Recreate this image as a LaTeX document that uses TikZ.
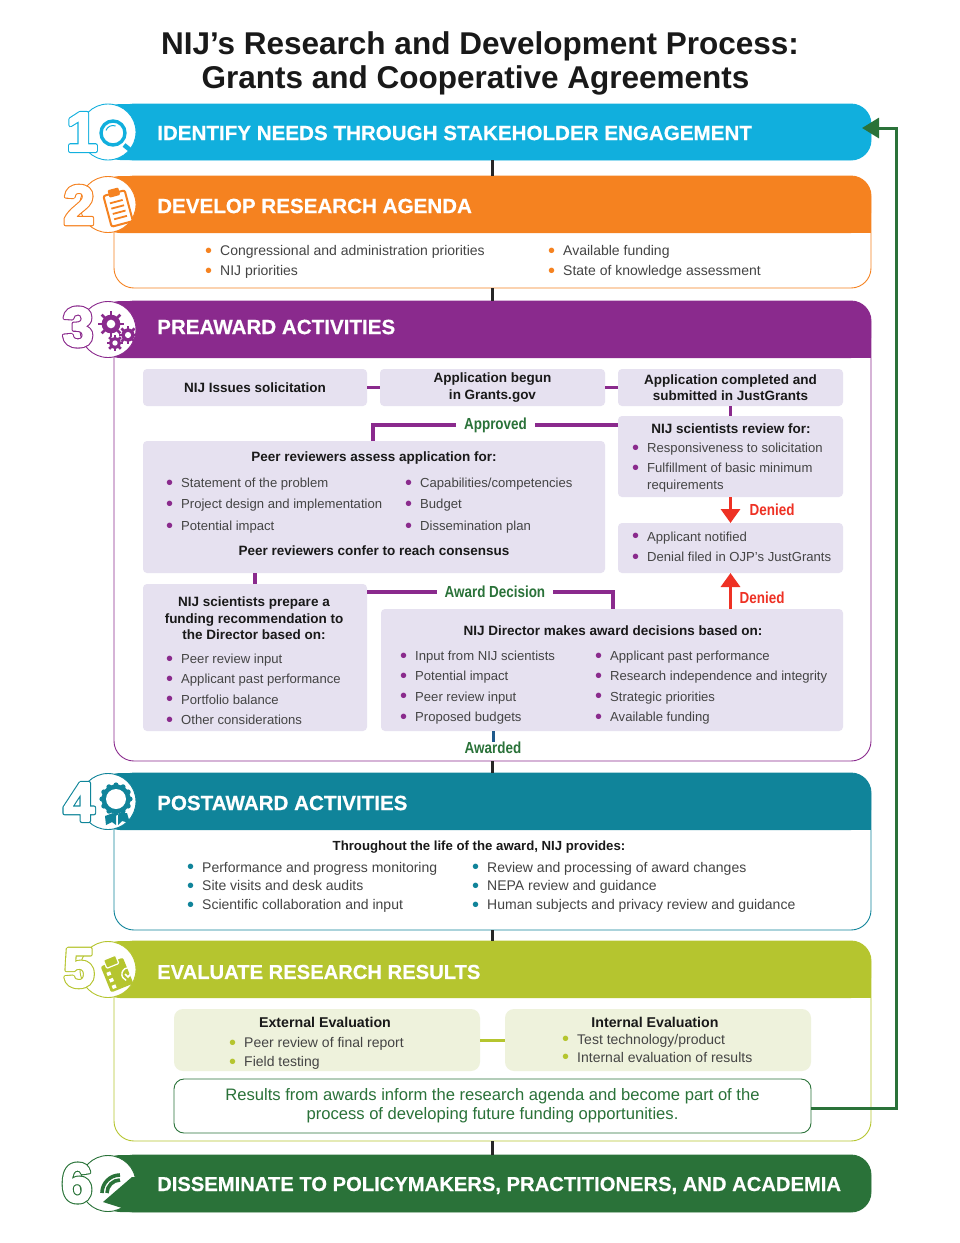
\documentclass[tikz,border=0pt]{standalone}
\usepackage{fontspec}
\setmainfont{Liberation Sans}
\newfontfamily\labelfont[FakeStretch=0.84]{Liberation Sans Bold}
\newfontfamily\headfont[FakeBold=0.5]{Liberation Sans Bold}
\usetikzlibrary{positioning,arrows.meta}

\definecolor{seccyan}{HTML}{11AFDD}
\definecolor{secorange}{HTML}{F58220}
\definecolor{secpurple}{HTML}{8A2A8D}
\definecolor{secteal}{HTML}{10849A}
\definecolor{secolive}{HTML}{B5C52F}
\definecolor{secgreen}{HTML}{2A7239}
\definecolor{boxlav}{HTML}{E6E1F0}
\definecolor{boxolive}{HTML}{EEF2DC}
\definecolor{bodygray}{HTML}{444444}
\definecolor{deniedred}{HTML}{EE3124}
\definecolor{awardblue}{HTML}{1F5A8C}

% outlined numeral, white inside
\newcommand{\outnum}[2]{\color{white}\rlap{\special{pdf:code 2 Tr 1 j 4.2 w #1 RG}#2}\special{pdf:code 2 Tr 1 j 2 w 1 1 1 RG}#2\special{pdf:code 0 Tr 0 j}}
\newcommand{\itm}[2]{\makebox[15pt][l]{\color{#1}\fontsize{20}{20}\selectfont\raisebox{-1.8pt}{\textbullet}}#2}

\tikzset{
    shell/.style = {draw=#1, fill=white, line width=0.9pt, rounded corners=20pt, minimum width=757pt, inner sep=0, outer sep=0},
    head/.style = {anchor=west, inner sep=0, text=white, font=\fontsize{20.6}{24}\headfont},
    numeral/.style = {inner sep=0, font=\fontsize{55}{60}\bfseries\selectfont},
    lavbox/.style = {fill=boxlav, rounded corners=4pt, inner sep=0, outer sep=0, align=center, font=\fontsize{13.5}{16.5}\bfseries\selectfont, text=black!90},
    olivebox/.style = {fill=boxolive, rounded corners=9pt, inner sep=0, outer sep=0},
    boxtitle/.style = {inner sep=0, align=center, font=\fontsize{13.5}{16.5}\bfseries\selectfont, text=black!90},
    itemlist/.style = {anchor=west, inner sep=0, align=left, text=bodygray, font=\fontsize{14}{20.4}\selectfont},
    preawardlist/.style = {itemlist, font=\fontsize{13.1}{20.4}\selectfont},
    link/.style = {secpurple, line width=3.3pt},
    joinline/.style = {black!85, line width=3pt},
    redarrow/.style = {deniedred, line width=3.3pt, -{Triangle[width=19pt,length=14pt]}},
    flowlabel/.style = {inner sep=0, font=\fontsize{16}{18}\labelfont},
    gapped/.style = {fill=white, inner xsep=8pt, inner ysep=0}
}

\begin{document}
\begin{tikzpicture}[x=1pt, y=-1pt]

\useasboundingbox (0,0) rectangle (960,1243);

\node[inner sep=0, align=center, text=black!90, font=\fontsize{31.5}{34}\bfseries\selectfont] (title) at (480,63) {NIJ’s Research and Development Process:\\Grants and Cooperative Agreements\hspace*{9pt}};

% section frames and their coloured bars
\foreach \secname/\ya/\yb/\yc/\seccol/\numx/\numy/\numcol/\numtext in {
    sec1/104/160/160/seccyan/82/132/0.07 0.69 0.87/1,
    sec2/176/233/288/secorange/79/205/0.96 0.51 0.13/2,
    sec3/301/358/761/secpurple/78/327/0.54 0.16 0.55/3,
    sec4/773/830/930/secteal/79/802/0.06 0.52 0.60/4,
    sec5/941/998/1141/secolive/79/968/0.71 0.77 0.18/5,
    sec6/1155/1212/1212/secgreen/77/1183/0.16 0.45 0.22/6} {
    \node[shell=\seccol, minimum height={(\yc-\ya)*1pt}] (\secname) at (492.5,{(\ya+\yc)/2}) {};
    \fill[\seccol, rounded corners=20pt] (100,\ya) rectangle (871,\yb);
    \ifnum\yc>\yb
        \fill[\seccol] (840,{(\ya+\yb)/2}) rectangle (871,\yb);
    \fi
    \filldraw[fill=white, draw=\seccol, line width=0.9pt] (108,{(\ya+\yb)/2}) circle (28);
    \node[numeral] (num\secname) at (\numx,\numy) {\outnum{\numcol}{\numtext}};
}

\draw[joinline] (sec1.south) -- (sec2.north);
\draw[joinline] (sec2.south) -- (sec3.north);
\draw[joinline] (sec3.south) -- (sec4.north);
\draw[joinline] (sec4.south) -- (sec5.north);
\draw[joinline] (sec5.south) -- (sec6.north);

% icons
\begin{scope}[shift={(113,133)}, seccyan]
    \draw[line width=3.4pt] (0,0) circle (12);
    \draw[line width=1pt] (200:7.5) arc (200:290:7.5);
    \draw[line width=4.5pt] (11,12) -- (21,20);
\end{scope}
\begin{scope}[shift={(118,208)}, rotate=15, scale=1.1, secorange]
    \filldraw[fill=white, line width=2pt, rounded corners=2pt] (-10,-14) rectangle (10,15);
    \fill[rounded corners=1pt] (-5,-18) rectangle (5,-11);
    \foreach \ly in {-6,-1,4,9} \draw[line width=1.8pt] (-6,\ly) -- (6,\ly);
\end{scope}
\foreach \gx/\gy/\gr in {111/324/12, 128/335/8.5, 115/343/7.5} {
    \foreach \ga in {0,45,...,315} \draw[secpurple, line width=2.8pt] (\gx,\gy) ++(\ga:0.6*\gr) -- ++(\ga:0.5*\gr);
    \fill[secpurple] (\gx,\gy) circle ({0.78*\gr});
    \fill[white] (\gx,\gy) circle ({0.36*\gr});
}
\begin{scope}[shift={(116,799)}, secteal]
    \fill (-3,14) -- (-11,17) -- (-10,26) -- (-4,23) -- (0,26) -- (0,16) -- cycle;
    \fill (3,14) -- (11,14) -- (14,24) -- (6,22) -- (2,26) -- (2,16) -- cycle;
    \foreach \ga in {0,30,...,330} \fill (\ga:14) circle (2.6);
    \fill (0,0) circle (14.5);
    \fill[white] (0,0) circle (10);
\end{scope}
\begin{scope}[shift={(117,975)}, rotate=22, secolive]
    \fill[rounded corners=2pt] (-12,-14) rectangle (12,14);
    \draw[white, line width=1.2pt, fill=secolive, rounded corners=1pt] (-7,-19) rectangle (6,-10);
    \foreach \ly in {-6,1,8} \fill[white] (-9,\ly) rectangle ++(4,3.5);
\end{scope}
\begin{scope}[shift={(128,974)}, white]
    \draw[line width=1.4pt] (6,-3) arc (-30:-250:6.5);
    \draw[line width=1.7pt] (-3,0) -- (0,3) -- (6,-4);
\end{scope}
\begin{scope}[secgreen]
    \fill (132,1177) -- (103,1202) -- (122,1208) -- (140,1208) -- (140,1177) -- cycle;
    \draw[line width=3.6pt] (102,1193) arc (180:270:18);
    \draw[line width=3.6pt] (107,1193) arc (180:270:13);
\end{scope}

% bar titles
\node[head] (head1) at (157,133) {IDENTIFY NEEDS THROUGH STAKEHOLDER ENGAGEMENT};
\node[head] (head2) at (157,206) {DEVELOP RESEARCH AGENDA};
\node[head] (head3) at (157,327) {PREAWARD ACTIVITIES};
\node[head] (head4) at (157,803) {POSTAWARD ACTIVITIES};
\node[head, font=\fontsize{20.2}{24}\headfont] (head5) at (157,972) {EVALUATE RESEARCH RESULTS};
\node[head, font=\fontsize{20.2}{24}\headfont] (head6) at (157,1185.5) {DISSEMINATE TO POLICYMAKERS, PRACTITIONERS, AND ACADEMIA};

% section 2
\node[itemlist] (list2a) at (205,262) {\itm{secorange}{Congressional and administration priorities}\\\itm{secorange}{NIJ priorities}};
\node[itemlist] (list2b) at (548,262) {\itm{secorange}{Available funding}\\\itm{secorange}{State of knowledge assessment}};

% section 3
\node[lavbox, anchor=north west, minimum width=224pt, minimum height=37pt] (solic) at (143,369) {NIJ Issues solicitation};
\node[lavbox, right=13pt of solic, minimum width=225pt, minimum height=37pt] (begun) {Application begun\\in Grants.gov};
\node[lavbox, right=13pt of begun, minimum width=225pt, minimum height=37pt] (submit) {Application completed and\\submitted in JustGrants};
\node[lavbox, below=10pt of submit, minimum width=225pt, minimum height=81pt] (review) {};
\node[lavbox, below=26pt of review, minimum width=225pt, minimum height=50pt] (notified) {};
\node[lavbox, anchor=north west, minimum width=462pt, minimum height=132pt] (peer) at (143,441) {};
\node[lavbox, anchor=north west, minimum width=224pt, minimum height=147pt] (prep) at (143,584) {};
\node[lavbox, anchor=north west, minimum width=462pt, minimum height=122pt] (director) at (381,609) {};

\node[boxtitle] (reviewtitle) at (731,429) {NIJ scientists review for:};
\node[preawardlist] (reviewlist) at (632,467.5) {\itm{secpurple}{Responsiveness to solicitation}\\\itm{secpurple}{Fulfillment of basic minimum}\\[-3.5pt]\hspace{15pt}requirements};
\node[preawardlist] (notifiedlist) at (632,547.5) {\itm{secpurple}{Applicant notified}\\\itm{secpurple}{Denial filed in OJP’s JustGrants}};

\node[boxtitle] (peertitle) at (374,458.5) {Peer reviewers assess application for:};
\node[preawardlist, font=\fontsize{13.1}{21.5}\selectfont] (peerlista) at (166,505.5) {\itm{secpurple}{Statement of the problem}\\\itm{secpurple}{Project design and implementation}\\\itm{secpurple}{Potential impact}};
\node[preawardlist, font=\fontsize{13.1}{21.5}\selectfont] (peerlistb) at (405,505.5) {\itm{secpurple}{Capabilities/competencies}\\\itm{secpurple}{Budget}\\\itm{secpurple}{Dissemination plan}};
\node[boxtitle] (peerend) at (374,551) {Peer reviewers confer to reach consensus};

\node[boxtitle] (preptitle) at (254,618.5) {NIJ scientists prepare a\\funding recommendation to\\the Director based on:};
\node[preawardlist] (preplist) at (166,690) {\itm{secpurple}{Peer review input}\\\itm{secpurple}{Applicant past performance}\\\itm{secpurple}{Portfolio balance}\\\itm{secpurple}{Other considerations}};

\node[boxtitle] (directortitle) at (613,631) {NIJ Director makes award decisions based on:};
\node[preawardlist] (directorlista) at (400,687.5) {\itm{secpurple}{Input from NIJ scientists}\\\itm{secpurple}{Potential impact}\\\itm{secpurple}{Peer review input}\\\itm{secpurple}{Proposed budgets}};
\node[preawardlist] (directorlistb) at (595,687.5) {\itm{secpurple}{Applicant past performance}\\\itm{secpurple}{Research independence and integrity}\\\itm{secpurple}{Strategic priorities}\\\itm{secpurple}{Available funding}};

\coordinate (approvedturn) at (373,425);
\coordinate (decisionturn) at (613,592);
\node[flowlabel, text=secgreen] (awarded) at (493,748) {Awarded};
\node[flowlabel, text=deniedred, right=19pt of review.south, yshift=-12.5pt] (deniedtop) {Denied};
\node[flowlabel, text=deniedred, right=9pt of notified.south, yshift=-24.5pt] (deniedlow) {Denied};

\draw[link] (solic) -- (begun);
\draw[link] (begun) -- (submit);
\draw[link] (submit) -- (review);
\draw[link] (review.west |- approvedturn) -- node[flowlabel, gapped, text=secgreen] (approved) {Approved} (approvedturn) -- (approvedturn |- peer.north);
\draw[link] (peer.south -| 255,0) -- (prep.north -| 255,0);
\draw[link] (prep.east |- decisionturn) -- node[flowlabel, gapped, pos=0.52, text=secgreen] (decision) {Award Decision} (decisionturn) -- (decisionturn |- director.north);
\draw[redarrow] (review) -- (notified);
\draw[redarrow] (director.north -| notified) -- (notified);
\draw[awardblue, line width=3pt] (director.south -| awarded) -- (awarded);

% section 4
\node[boxtitle, font=\fontsize{13.2}{16.5}\bfseries\selectfont] (throughout) at (479,847) {Throughout the life of the award, NIJ provides:};
\node[itemlist, font=\fontsize{14}{18.6}\selectfont] (list4a) at (187,887) {\itm{secteal}{Performance and progress monitoring}\\\itm{secteal}{Site visits and desk audits}\\\itm{secteal}{Scientific collaboration and input}};
\node[itemlist, font=\fontsize{14}{18.6}\selectfont] (list4b) at (472,887) {\itm{secteal}{Review and processing of award changes}\\\itm{secteal}{NEPA review and guidance}\\\itm{secteal}{Human subjects and privacy review and guidance}};

% section 5
\node[olivebox, anchor=north west, minimum width=306pt, minimum height=62pt] (external) at (174,1009) {};
\node[olivebox, right=25pt of external, minimum width=306pt, minimum height=62pt] (internal) {};
\node[boxtitle, font=\fontsize{14.2}{16.5}\bfseries\selectfont] (externaltitle) at (325,1022) {External Evaluation};
\node[boxtitle, font=\fontsize{14.2}{16.5}\bfseries\selectfont] (internaltitle) at (655,1022) {Internal Evaluation};
\node[itemlist, font=\fontsize{14}{19}\selectfont] (externallist) at (229,1053.5) {\itm{secolive}{Peer review of final report}\\\itm{secolive}{Field testing}};
\node[itemlist, font=\fontsize{14}{18}\selectfont] (internallist) at (562,1049) {\itm{secolive}{Test technology/product}\\\itm{secolive}{Internal evaluation of results}};
\node[draw=secgreen, fill=white, line width=0.9pt, rounded corners=10pt, inner sep=0, outer sep=0, anchor=north west, minimum width=637pt, minimum height=54pt, align=center, text=secgreen, font=\fontsize{16.6}{19}\selectfont] (results) at (174,1079) {Results from awards inform the research agenda and become part of the\\process of developing future funding opportunities.};
\draw[secolive, line width=3pt] (external) -- (internal);

% feedback to the first bar
\coordinate (feedcorner) at (896,1108);
\draw[secgreen, line width=3pt, -{Triangle[width=20pt,length=17pt]}] (results.east |- feedcorner) -- (feedcorner) -- (feedcorner |- 0,128) -- (862,128);

\end{tikzpicture}
\end{document}
